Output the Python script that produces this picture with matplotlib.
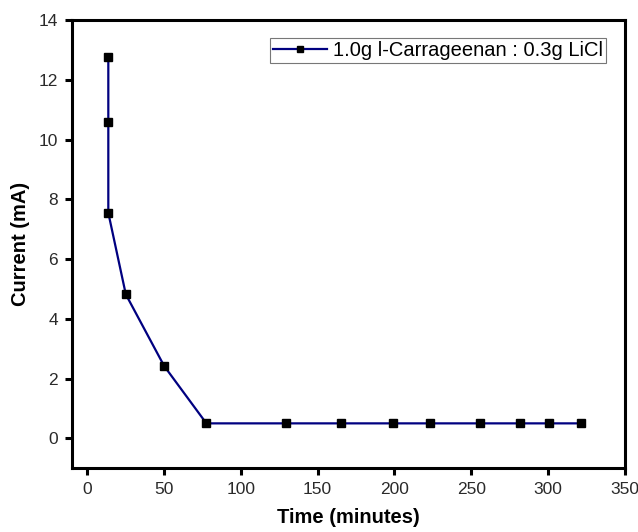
import matplotlib
matplotlib.use("Agg")
import matplotlib.pyplot as plt

plt.rcParams["font.family"] = ["Liberation Sans", "DejaVu Sans"]

# Current decay of the electrolyte cell over time
time_min = [13.6, 13.6, 13.6, 25.0, 50.0, 77.5, 129.5, 165.0, 199.0, 223.0, 255.5, 282.0, 301.0, 321.5]
current_ma = [12.78, 10.6, 7.55, 4.82, 2.42, 0.5, 0.5, 0.5, 0.5, 0.5, 0.5, 0.5, 0.5, 0.5]
label = "1.0g l-Carrageenan : 0.3g LiCl"

fig = plt.figure(figsize=(6.38, 5.32), dpi=100)
ax = fig.add_axes([0.113, 0.120, 0.866, 0.842])

ax.plot(time_min, current_ma, color="#000080", linewidth=1.6,
        marker="s", markersize=6, markerfacecolor="black",
        markeredgecolor="black", label=label)

ax.set_xlim(-10, 350)
ax.set_ylim(-1, 14)
ax.set_xticks(range(0, 351, 50))
ax.set_yticks(range(0, 15, 2))

for side in ax.spines.values():
    side.set_linewidth(2.2)
ax.tick_params(direction="out", length=5, width=2.2, labelsize=12.5, pad=5,
               top=False, right=False, colors="black", labelcolor="#2a2a2a")

ax.set_xlabel("Time (minutes)", fontsize=14.5, fontweight="bold", labelpad=8)
ax.set_ylabel("Current (mA)", fontsize=14.5, fontweight="bold", labelpad=6)

leg = ax.legend(loc="upper right", fontsize=14.5, frameon=True, fancybox=False,
                edgecolor="#555555", borderpad=0.15, handlelength=2.7,
                handletextpad=0.3, borderaxespad=0, markerscale=0.8,
                bbox_to_anchor=(0.967, 0.96))
leg.get_frame().set_linewidth(0.8)

fig.savefig("out.png", dpi=100)
